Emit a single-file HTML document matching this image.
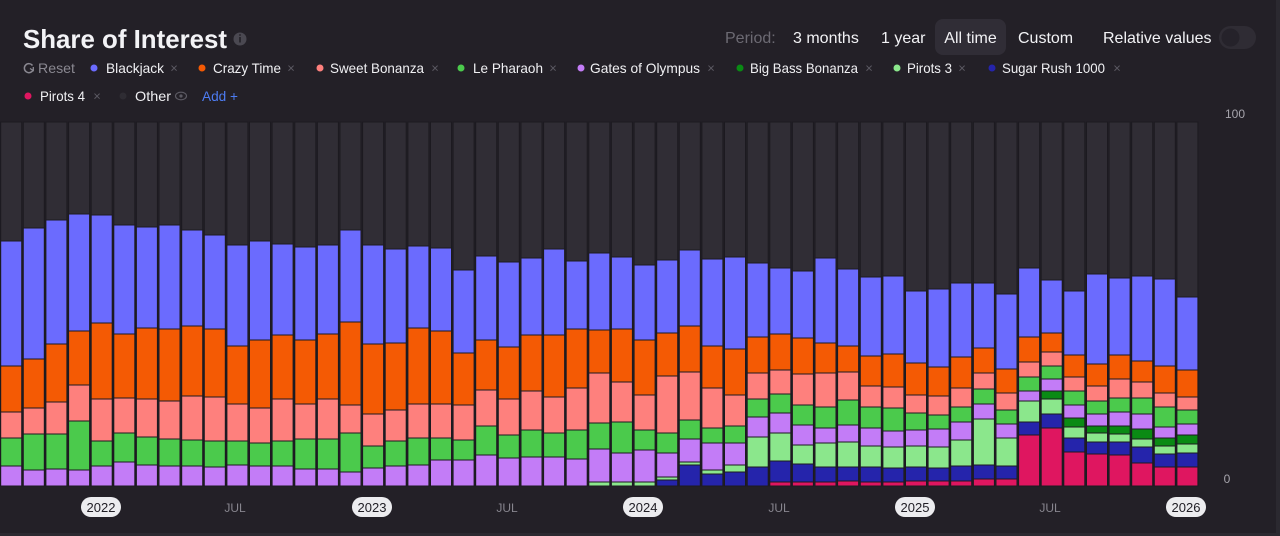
<!DOCTYPE html>
<html><head><meta charset="utf-8"><style>
html,body{margin:0;padding:0;background:#232027;}
svg{display:block;}
text{font-family:"Liberation Sans",Arial,sans-serif;}
.o{fill:#302d35}
.c rect{stroke:#1c1a20;stroke-width:1}
.bj{fill:#6b6bfe}.ct{fill:#f45a04}.sb{fill:#fe807d}.lp{fill:#4bca4c}.go{fill:#c37cf7}.bb{fill:#0a8a14}.p3{fill:#8be78c}.sr{fill:#2524ab}.p4{fill:#df1660}
</style></head><body>
<svg width="1280" height="536" viewBox="0 0 1280 536" xmlns="http://www.w3.org/2000/svg">
<rect x="0" y="0" width="1280" height="536" fill="#232027"/>
<rect x="1276" y="0" width="4" height="536" fill="#2b2930"/>
<rect x="0" y="533" width="1280" height="3" fill="#2b2930"/>

<!-- header -->
<text x="23" y="48" font-size="26" font-weight="bold" fill="#f3f3f6" textLength="204" lengthAdjust="spacingAndGlyphs">Share of Interest</text>
<circle cx="240" cy="39" r="6.5" fill="#4a4851"/>
<rect x="239.2" y="37" width="1.6" height="5.5" fill="#232027"/>
<circle cx="240" cy="35" r="0.9" fill="#232027"/>

<text x="725" y="43" font-size="16" fill="#6c6a73">Period:</text>
<text x="793" y="43" font-size="16" fill="#f2f2f5">3 months</text>
<text x="881" y="43" font-size="16" fill="#f2f2f5">1 year</text>
<rect x="935" y="19" width="71" height="36" rx="8" fill="#302d36"/>
<text x="970.5" y="43" font-size="16" fill="#f2f2f5" text-anchor="middle">All time</text>
<text x="1018" y="43" font-size="16" fill="#f2f2f5">Custom</text>
<text x="1103" y="43" font-size="16" fill="#f2f2f5">Relative values</text>
<rect x="1219" y="26" width="37" height="23" rx="11.5" fill="#2f2c34"/>
<circle cx="1230.5" cy="37.5" r="9" fill="#25222a"/>

<!-- legend row 1 -->
<path d="M32.5 65.5 A4.5 4.5 0 1 0 33 70" fill="none" stroke="#8a8891" stroke-width="1.5"/>
<path d="M30 68.5 L33.3 70.5 L33.3 67" fill="none" stroke="#8a8891" stroke-width="1.3"/>
<text x="38" y="73" font-size="14" fill="#8a8891" textLength="37" lengthAdjust="spacingAndGlyphs">Reset</text>

<circle cx="94" cy="68" r="3.5" fill="#6b6bfe"/><text x="106" y="73" font-size="14" fill="#f0f0f3" textLength="58" lengthAdjust="spacingAndGlyphs">Blackjack</text><text x="174" y="72.5" font-size="13" fill="#5c5a63" text-anchor="middle">×</text>
<circle cx="202" cy="68" r="3.5" fill="#f45a04"/><text x="213" y="73" font-size="14" fill="#f0f0f3" textLength="68" lengthAdjust="spacingAndGlyphs">Crazy Time</text><text x="291" y="72.5" font-size="13" fill="#5c5a63" text-anchor="middle">×</text>
<circle cx="320" cy="68" r="3.5" fill="#fe807d"/><text x="330" y="73" font-size="14" fill="#f0f0f3" textLength="94" lengthAdjust="spacingAndGlyphs">Sweet Bonanza</text><text x="435" y="72.5" font-size="13" fill="#5c5a63" text-anchor="middle">×</text>
<circle cx="461" cy="68" r="3.5" fill="#4bca4c"/><text x="473" y="73" font-size="14" fill="#f0f0f3" textLength="70" lengthAdjust="spacingAndGlyphs">Le Pharaoh</text><text x="553" y="72.5" font-size="13" fill="#5c5a63" text-anchor="middle">×</text>
<circle cx="581" cy="68" r="3.5" fill="#c37cf7"/><text x="590" y="73" font-size="14" fill="#f0f0f3" textLength="110" lengthAdjust="spacingAndGlyphs">Gates of Olympus</text><text x="711" y="72.5" font-size="13" fill="#5c5a63" text-anchor="middle">×</text>
<circle cx="740" cy="68" r="3.5" fill="#0a8a14"/><text x="750" y="73" font-size="14" fill="#f0f0f3" textLength="108" lengthAdjust="spacingAndGlyphs">Big Bass Bonanza</text><text x="869" y="72.5" font-size="13" fill="#5c5a63" text-anchor="middle">×</text>
<circle cx="897" cy="68" r="3.5" fill="#8be78c"/><text x="907" y="73" font-size="14" fill="#f0f0f3" textLength="45" lengthAdjust="spacingAndGlyphs">Pirots 3</text><text x="962" y="72.5" font-size="13" fill="#5c5a63" text-anchor="middle">×</text>
<circle cx="992" cy="68" r="3.5" fill="#2524ab"/><text x="1002" y="73" font-size="14" fill="#f0f0f3" textLength="103" lengthAdjust="spacingAndGlyphs">Sugar Rush 1000</text><text x="1117" y="72.5" font-size="13" fill="#5c5a63" text-anchor="middle">×</text>

<!-- legend row 2 -->
<circle cx="28" cy="96" r="3.5" fill="#df1660"/><text x="40" y="101" font-size="14" fill="#f0f0f3" textLength="45" lengthAdjust="spacingAndGlyphs">Pirots 4</text><text x="97" y="100.5" font-size="13" fill="#5c5a63" text-anchor="middle">×</text>
<circle cx="123" cy="96" r="3.5" fill="#2e2c33"/><text x="135" y="101" font-size="14" fill="#f0f0f3" textLength="36" lengthAdjust="spacingAndGlyphs">Other</text>
<ellipse cx="181" cy="96" rx="5.5" ry="3.8" fill="none" stroke="#5c5a63" stroke-width="1.2"/><circle cx="181" cy="96" r="1.6" fill="#5c5a63"/>
<text x="202" y="101" font-size="14" fill="#4d7cf2" textLength="36" lengthAdjust="spacingAndGlyphs">Add +</text>

<!-- bars -->
<g class="c">
<g transform="translate(0.7 0)"><rect class="o" y="122" width="21" height="364" stroke="none"/><rect class="bj" y="241" width="21" height="125"/><rect class="ct" y="366" width="21" height="46"/><rect class="sb" y="412" width="21" height="26"/><rect class="lp" y="438" width="21" height="28"/><rect class="go" y="466" width="21" height="20"/></g>
<g transform="translate(23.3 0)"><rect class="o" y="122" width="21" height="364" stroke="none"/><rect class="bj" y="228" width="21" height="131"/><rect class="ct" y="359" width="21" height="49"/><rect class="sb" y="408" width="21" height="26"/><rect class="lp" y="434" width="21" height="36"/><rect class="go" y="470" width="21" height="16"/></g>
<g transform="translate(45.9 0)"><rect class="o" y="122" width="21" height="364" stroke="none"/><rect class="bj" y="220" width="21" height="124"/><rect class="ct" y="344" width="21" height="58"/><rect class="sb" y="402" width="21" height="32"/><rect class="lp" y="434" width="21" height="35"/><rect class="go" y="469" width="21" height="17"/></g>
<g transform="translate(68.6 0)"><rect class="o" y="122" width="21" height="364" stroke="none"/><rect class="bj" y="214" width="21" height="117"/><rect class="ct" y="331" width="21" height="54"/><rect class="sb" y="385" width="21" height="36"/><rect class="lp" y="421" width="21" height="49"/><rect class="go" y="470" width="21" height="16"/></g>
<g transform="translate(91.2 0)"><rect class="o" y="122" width="21" height="364" stroke="none"/><rect class="bj" y="215" width="21" height="108"/><rect class="ct" y="323" width="21" height="76"/><rect class="sb" y="399" width="21" height="42"/><rect class="lp" y="441" width="21" height="25"/><rect class="go" y="466" width="21" height="20"/></g>
<g transform="translate(113.8 0)"><rect class="o" y="122" width="21" height="364" stroke="none"/><rect class="bj" y="225" width="21" height="109"/><rect class="ct" y="334" width="21" height="64"/><rect class="sb" y="398" width="21" height="35"/><rect class="lp" y="433" width="21" height="29"/><rect class="go" y="462" width="21" height="24"/></g>
<g transform="translate(136.4 0)"><rect class="o" y="122" width="21" height="364" stroke="none"/><rect class="bj" y="227" width="21" height="101"/><rect class="ct" y="328" width="21" height="71"/><rect class="sb" y="399" width="21" height="38"/><rect class="lp" y="437" width="21" height="28"/><rect class="go" y="465" width="21" height="21"/></g>
<g transform="translate(159.0 0)"><rect class="o" y="122" width="21" height="364" stroke="none"/><rect class="bj" y="225" width="21" height="104"/><rect class="ct" y="329" width="21" height="72"/><rect class="sb" y="401" width="21" height="38"/><rect class="lp" y="439" width="21" height="27"/><rect class="go" y="466" width="21" height="20"/></g>
<g transform="translate(181.7 0)"><rect class="o" y="122" width="21" height="364" stroke="none"/><rect class="bj" y="230" width="21" height="96"/><rect class="ct" y="326" width="21" height="70"/><rect class="sb" y="396" width="21" height="44"/><rect class="lp" y="440" width="21" height="26"/><rect class="go" y="466" width="21" height="20"/></g>
<g transform="translate(204.3 0)"><rect class="o" y="122" width="21" height="364" stroke="none"/><rect class="bj" y="235" width="21" height="94"/><rect class="ct" y="329" width="21" height="68"/><rect class="sb" y="397" width="21" height="44"/><rect class="lp" y="441" width="21" height="26"/><rect class="go" y="467" width="21" height="19"/></g>
<g transform="translate(226.9 0)"><rect class="o" y="122" width="21" height="364" stroke="none"/><rect class="bj" y="245" width="21" height="101"/><rect class="ct" y="346" width="21" height="58"/><rect class="sb" y="404" width="21" height="37"/><rect class="lp" y="441" width="21" height="24"/><rect class="go" y="465" width="21" height="21"/></g>
<g transform="translate(249.5 0)"><rect class="o" y="122" width="21" height="364" stroke="none"/><rect class="bj" y="241" width="21" height="99"/><rect class="ct" y="340" width="21" height="68"/><rect class="sb" y="408" width="21" height="35"/><rect class="lp" y="443" width="21" height="23"/><rect class="go" y="466" width="21" height="20"/></g>
<g transform="translate(272.1 0)"><rect class="o" y="122" width="21" height="364" stroke="none"/><rect class="bj" y="244" width="21" height="91"/><rect class="ct" y="335" width="21" height="64"/><rect class="sb" y="399" width="21" height="42"/><rect class="lp" y="441" width="21" height="25"/><rect class="go" y="466" width="21" height="20"/></g>
<g transform="translate(294.8 0)"><rect class="o" y="122" width="21" height="364" stroke="none"/><rect class="bj" y="247" width="21" height="93"/><rect class="ct" y="340" width="21" height="64"/><rect class="sb" y="404" width="21" height="35"/><rect class="lp" y="439" width="21" height="30"/><rect class="go" y="469" width="21" height="17"/></g>
<g transform="translate(317.4 0)"><rect class="o" y="122" width="21" height="364" stroke="none"/><rect class="bj" y="245" width="21" height="89"/><rect class="ct" y="334" width="21" height="65"/><rect class="sb" y="399" width="21" height="40"/><rect class="lp" y="439" width="21" height="30"/><rect class="go" y="469" width="21" height="17"/></g>
<g transform="translate(340.0 0)"><rect class="o" y="122" width="21" height="364" stroke="none"/><rect class="bj" y="230" width="21" height="92"/><rect class="ct" y="322" width="21" height="83"/><rect class="sb" y="405" width="21" height="28"/><rect class="lp" y="433" width="21" height="39"/><rect class="go" y="472" width="21" height="14"/></g>
<g transform="translate(362.6 0)"><rect class="o" y="122" width="21" height="364" stroke="none"/><rect class="bj" y="245" width="21" height="99"/><rect class="ct" y="344" width="21" height="70"/><rect class="sb" y="414" width="21" height="32"/><rect class="lp" y="446" width="21" height="22"/><rect class="go" y="468" width="21" height="18"/></g>
<g transform="translate(385.2 0)"><rect class="o" y="122" width="21" height="364" stroke="none"/><rect class="bj" y="249" width="21" height="94"/><rect class="ct" y="343" width="21" height="67"/><rect class="sb" y="410" width="21" height="31"/><rect class="lp" y="441" width="21" height="25"/><rect class="go" y="466" width="21" height="20"/></g>
<g transform="translate(407.9 0)"><rect class="o" y="122" width="21" height="364" stroke="none"/><rect class="bj" y="246" width="21" height="82"/><rect class="ct" y="328" width="21" height="76"/><rect class="sb" y="404" width="21" height="34"/><rect class="lp" y="438" width="21" height="27"/><rect class="go" y="465" width="21" height="21"/></g>
<g transform="translate(430.5 0)"><rect class="o" y="122" width="21" height="364" stroke="none"/><rect class="bj" y="248" width="21" height="83"/><rect class="ct" y="331" width="21" height="73"/><rect class="sb" y="404" width="21" height="34"/><rect class="lp" y="438" width="21" height="22"/><rect class="go" y="460" width="21" height="26"/></g>
<g transform="translate(453.1 0)"><rect class="o" y="122" width="21" height="364" stroke="none"/><rect class="bj" y="270" width="21" height="83"/><rect class="ct" y="353" width="21" height="52"/><rect class="sb" y="405" width="21" height="35"/><rect class="lp" y="440" width="21" height="20"/><rect class="go" y="460" width="21" height="26"/></g>
<g transform="translate(475.7 0)"><rect class="o" y="122" width="21" height="364" stroke="none"/><rect class="bj" y="256" width="21" height="84"/><rect class="ct" y="340" width="21" height="50"/><rect class="sb" y="390" width="21" height="36"/><rect class="lp" y="426" width="21" height="29"/><rect class="go" y="455" width="21" height="31"/></g>
<g transform="translate(498.3 0)"><rect class="o" y="122" width="21" height="364" stroke="none"/><rect class="bj" y="262" width="21" height="85"/><rect class="ct" y="347" width="21" height="52"/><rect class="sb" y="399" width="21" height="36"/><rect class="lp" y="435" width="21" height="23"/><rect class="go" y="458" width="21" height="28"/></g>
<g transform="translate(521.0 0)"><rect class="o" y="122" width="21" height="364" stroke="none"/><rect class="bj" y="258" width="21" height="77"/><rect class="ct" y="335" width="21" height="56"/><rect class="sb" y="391" width="21" height="39"/><rect class="lp" y="430" width="21" height="27"/><rect class="go" y="457" width="21" height="29"/></g>
<g transform="translate(543.6 0)"><rect class="o" y="122" width="21" height="364" stroke="none"/><rect class="bj" y="249" width="21" height="86"/><rect class="ct" y="335" width="21" height="62"/><rect class="sb" y="397" width="21" height="36"/><rect class="lp" y="433" width="21" height="24"/><rect class="go" y="457" width="21" height="29"/></g>
<g transform="translate(566.2 0)"><rect class="o" y="122" width="21" height="364" stroke="none"/><rect class="bj" y="261" width="21" height="68"/><rect class="ct" y="329" width="21" height="59"/><rect class="sb" y="388" width="21" height="42"/><rect class="lp" y="430" width="21" height="29"/><rect class="go" y="459" width="21" height="27"/></g>
<g transform="translate(588.8 0)"><rect class="o" y="122" width="21" height="364" stroke="none"/><rect class="bj" y="253" width="21" height="77"/><rect class="ct" y="330" width="21" height="43"/><rect class="sb" y="373" width="21" height="50"/><rect class="lp" y="423" width="21" height="26"/><rect class="go" y="449" width="21" height="33"/><rect class="p3" y="482" width="21" height="4"/></g>
<g transform="translate(611.4 0)"><rect class="o" y="122" width="21" height="364" stroke="none"/><rect class="bj" y="257" width="21" height="72"/><rect class="ct" y="329" width="21" height="53"/><rect class="sb" y="382" width="21" height="40"/><rect class="lp" y="422" width="21" height="31"/><rect class="go" y="453" width="21" height="29"/><rect class="p3" y="482" width="21" height="4"/></g>
<g transform="translate(634.1 0)"><rect class="o" y="122" width="21" height="364" stroke="none"/><rect class="bj" y="265" width="21" height="75"/><rect class="ct" y="340" width="21" height="55"/><rect class="sb" y="395" width="21" height="35"/><rect class="lp" y="430" width="21" height="20"/><rect class="go" y="450" width="21" height="32"/><rect class="p3" y="482" width="21" height="4"/></g>
<g transform="translate(656.7 0)"><rect class="o" y="122" width="21" height="364" stroke="none"/><rect class="bj" y="260" width="21" height="73"/><rect class="ct" y="333" width="21" height="43"/><rect class="sb" y="376" width="21" height="57"/><rect class="lp" y="433" width="21" height="20"/><rect class="go" y="453" width="21" height="24"/><rect class="p3" y="477" width="21" height="3"/><rect class="sr" y="480" width="21" height="6"/></g>
<g transform="translate(679.3 0)"><rect class="o" y="122" width="21" height="364" stroke="none"/><rect class="bj" y="250" width="21" height="76"/><rect class="ct" y="326" width="21" height="46"/><rect class="sb" y="372" width="21" height="48"/><rect class="lp" y="420" width="21" height="19"/><rect class="go" y="439" width="21" height="23"/><rect class="p3" y="462" width="21" height="3"/><rect class="sr" y="465" width="21" height="21"/></g>
<g transform="translate(701.9 0)"><rect class="o" y="122" width="21" height="364" stroke="none"/><rect class="bj" y="259" width="21" height="87"/><rect class="ct" y="346" width="21" height="42"/><rect class="sb" y="388" width="21" height="40"/><rect class="lp" y="428" width="21" height="15"/><rect class="go" y="443" width="21" height="27"/><rect class="p3" y="470" width="21" height="4"/><rect class="sr" y="474" width="21" height="12"/></g>
<g transform="translate(724.5 0)"><rect class="o" y="122" width="21" height="364" stroke="none"/><rect class="bj" y="257" width="21" height="92"/><rect class="ct" y="349" width="21" height="46"/><rect class="sb" y="395" width="21" height="31"/><rect class="lp" y="426" width="21" height="17"/><rect class="go" y="443" width="21" height="22"/><rect class="p3" y="465" width="21" height="7"/><rect class="sr" y="472" width="21" height="14"/></g>
<g transform="translate(747.2 0)"><rect class="o" y="122" width="21" height="364" stroke="none"/><rect class="bj" y="263" width="21" height="74"/><rect class="ct" y="337" width="21" height="36"/><rect class="sb" y="373" width="21" height="26"/><rect class="lp" y="399" width="21" height="18"/><rect class="go" y="417" width="21" height="20"/><rect class="p3" y="437" width="21" height="30"/><rect class="sr" y="467" width="21" height="19"/></g>
<g transform="translate(769.8 0)"><rect class="o" y="122" width="21" height="364" stroke="none"/><rect class="bj" y="268" width="21" height="66"/><rect class="ct" y="334" width="21" height="36"/><rect class="sb" y="370" width="21" height="24"/><rect class="lp" y="394" width="21" height="19"/><rect class="go" y="413" width="21" height="20"/><rect class="p3" y="433" width="21" height="28"/><rect class="sr" y="461" width="21" height="21"/><rect class="p4" y="482" width="21" height="4"/></g>
<g transform="translate(792.4 0)"><rect class="o" y="122" width="21" height="364" stroke="none"/><rect class="bj" y="271" width="21" height="67"/><rect class="ct" y="338" width="21" height="36"/><rect class="sb" y="374" width="21" height="31"/><rect class="lp" y="405" width="21" height="20"/><rect class="go" y="425" width="21" height="20"/><rect class="p3" y="445" width="21" height="19"/><rect class="sr" y="464" width="21" height="18"/><rect class="p4" y="482" width="21" height="4"/></g>
<g transform="translate(815.0 0)"><rect class="o" y="122" width="21" height="364" stroke="none"/><rect class="bj" y="258" width="21" height="85"/><rect class="ct" y="343" width="21" height="30"/><rect class="sb" y="373" width="21" height="34"/><rect class="lp" y="407" width="21" height="21"/><rect class="go" y="428" width="21" height="15"/><rect class="p3" y="443" width="21" height="24"/><rect class="sr" y="467" width="21" height="15"/><rect class="p4" y="482" width="21" height="4"/></g>
<g transform="translate(837.6 0)"><rect class="o" y="122" width="21" height="364" stroke="none"/><rect class="bj" y="269" width="21" height="77"/><rect class="ct" y="346" width="21" height="26"/><rect class="sb" y="372" width="21" height="28"/><rect class="lp" y="400" width="21" height="25"/><rect class="go" y="425" width="21" height="17"/><rect class="p3" y="442" width="21" height="25"/><rect class="sr" y="467" width="21" height="14"/><rect class="p4" y="481" width="21" height="5"/></g>
<g transform="translate(860.3 0)"><rect class="o" y="122" width="21" height="364" stroke="none"/><rect class="bj" y="277" width="21" height="79"/><rect class="ct" y="356" width="21" height="30"/><rect class="sb" y="386" width="21" height="21"/><rect class="lp" y="407" width="21" height="21"/><rect class="go" y="428" width="21" height="18"/><rect class="p3" y="446" width="21" height="21"/><rect class="sr" y="467" width="21" height="15"/><rect class="p4" y="482" width="21" height="4"/></g>
<g transform="translate(882.9 0)"><rect class="o" y="122" width="21" height="364" stroke="none"/><rect class="bj" y="276" width="21" height="78"/><rect class="ct" y="354" width="21" height="33"/><rect class="sb" y="387" width="21" height="21"/><rect class="lp" y="408" width="21" height="23"/><rect class="go" y="431" width="21" height="16"/><rect class="p3" y="447" width="21" height="21"/><rect class="sr" y="468" width="21" height="14"/><rect class="p4" y="482" width="21" height="4"/></g>
<g transform="translate(905.5 0)"><rect class="o" y="122" width="21" height="364" stroke="none"/><rect class="bj" y="291" width="21" height="72"/><rect class="ct" y="363" width="21" height="32"/><rect class="sb" y="395" width="21" height="18"/><rect class="lp" y="413" width="21" height="17"/><rect class="go" y="430" width="21" height="16"/><rect class="p3" y="446" width="21" height="21"/><rect class="sr" y="467" width="21" height="14"/><rect class="p4" y="481" width="21" height="5"/></g>
<g transform="translate(928.1 0)"><rect class="o" y="122" width="21" height="364" stroke="none"/><rect class="bj" y="289" width="21" height="78"/><rect class="ct" y="367" width="21" height="29"/><rect class="sb" y="396" width="21" height="19"/><rect class="lp" y="415" width="21" height="14"/><rect class="go" y="429" width="21" height="18"/><rect class="p3" y="447" width="21" height="21"/><rect class="sr" y="468" width="21" height="13"/><rect class="p4" y="481" width="21" height="5"/></g>
<g transform="translate(950.7 0)"><rect class="o" y="122" width="21" height="364" stroke="none"/><rect class="bj" y="283" width="21" height="74"/><rect class="ct" y="357" width="21" height="31"/><rect class="sb" y="388" width="21" height="19"/><rect class="lp" y="407" width="21" height="15"/><rect class="go" y="422" width="21" height="18"/><rect class="p3" y="440" width="21" height="26"/><rect class="sr" y="466" width="21" height="15"/><rect class="p4" y="481" width="21" height="5"/></g>
<g transform="translate(973.4 0)"><rect class="o" y="122" width="21" height="364" stroke="none"/><rect class="bj" y="283" width="21" height="65"/><rect class="ct" y="348" width="21" height="25"/><rect class="sb" y="373" width="21" height="16"/><rect class="lp" y="389" width="21" height="15"/><rect class="go" y="404" width="21" height="15"/><rect class="p3" y="419" width="21" height="46"/><rect class="sr" y="465" width="21" height="14"/><rect class="p4" y="479" width="21" height="7"/></g>
<g transform="translate(996.0 0)"><rect class="o" y="122" width="21" height="364" stroke="none"/><rect class="bj" y="294" width="21" height="75"/><rect class="ct" y="369" width="21" height="24"/><rect class="sb" y="393" width="21" height="17"/><rect class="lp" y="410" width="21" height="14"/><rect class="go" y="424" width="21" height="14"/><rect class="p3" y="438" width="21" height="28"/><rect class="sr" y="466" width="21" height="13"/><rect class="p4" y="479" width="21" height="7"/></g>
<g transform="translate(1018.6 0)"><rect class="o" y="122" width="21" height="364" stroke="none"/><rect class="bj" y="268" width="21" height="69"/><rect class="ct" y="337" width="21" height="25"/><rect class="sb" y="362" width="21" height="15"/><rect class="lp" y="377" width="21" height="14"/><rect class="go" y="391" width="21" height="10"/><rect class="p3" y="401" width="21" height="21"/><rect class="sr" y="422" width="21" height="13"/><rect class="p4" y="435" width="21" height="51"/></g>
<g transform="translate(1041.2 0)"><rect class="o" y="122" width="21" height="364" stroke="none"/><rect class="bj" y="280" width="21" height="53"/><rect class="ct" y="333" width="21" height="19"/><rect class="sb" y="352" width="21" height="14"/><rect class="lp" y="366" width="21" height="13"/><rect class="go" y="379" width="21" height="12"/><rect class="bb" y="391" width="21" height="8"/><rect class="p3" y="399" width="21" height="15"/><rect class="sr" y="414" width="21" height="14"/><rect class="p4" y="428" width="21" height="58"/></g>
<g transform="translate(1063.8 0)"><rect class="o" y="122" width="21" height="364" stroke="none"/><rect class="bj" y="291" width="21" height="64"/><rect class="ct" y="355" width="21" height="22"/><rect class="sb" y="377" width="21" height="14"/><rect class="lp" y="391" width="21" height="14"/><rect class="go" y="405" width="21" height="13"/><rect class="bb" y="418" width="21" height="9"/><rect class="p3" y="427" width="21" height="11"/><rect class="sr" y="438" width="21" height="14"/><rect class="p4" y="452" width="21" height="34"/></g>
<g transform="translate(1086.5 0)"><rect class="o" y="122" width="21" height="364" stroke="none"/><rect class="bj" y="274" width="21" height="90"/><rect class="ct" y="364" width="21" height="22"/><rect class="sb" y="386" width="21" height="15"/><rect class="lp" y="401" width="21" height="13"/><rect class="go" y="414" width="21" height="12"/><rect class="bb" y="426" width="21" height="7"/><rect class="p3" y="433" width="21" height="9"/><rect class="sr" y="442" width="21" height="12"/><rect class="p4" y="454" width="21" height="32"/></g>
<g transform="translate(1109.1 0)"><rect class="o" y="122" width="21" height="364" stroke="none"/><rect class="bj" y="278" width="21" height="77"/><rect class="ct" y="355" width="21" height="24"/><rect class="sb" y="379" width="21" height="19"/><rect class="lp" y="398" width="21" height="14"/><rect class="go" y="412" width="21" height="14"/><rect class="bb" y="426" width="21" height="8"/><rect class="p3" y="434" width="21" height="8"/><rect class="sr" y="442" width="21" height="13"/><rect class="p4" y="455" width="21" height="31"/></g>
<g transform="translate(1131.7 0)"><rect class="o" y="122" width="21" height="364" stroke="none"/><rect class="bj" y="276" width="21" height="85"/><rect class="ct" y="361" width="21" height="21"/><rect class="sb" y="382" width="21" height="16"/><rect class="lp" y="398" width="21" height="16"/><rect class="go" y="414" width="21" height="15"/><rect class="bb" y="429" width="21" height="10"/><rect class="p3" y="439" width="21" height="8"/><rect class="sr" y="447" width="21" height="16"/><rect class="p4" y="463" width="21" height="23"/></g>
<g transform="translate(1154.3 0)"><rect class="o" y="122" width="21" height="364" stroke="none"/><rect class="bj" y="279" width="21" height="87"/><rect class="ct" y="366" width="21" height="27"/><rect class="sb" y="393" width="21" height="14"/><rect class="lp" y="407" width="21" height="20"/><rect class="go" y="427" width="21" height="11"/><rect class="bb" y="438" width="21" height="8"/><rect class="p3" y="446" width="21" height="8"/><rect class="sr" y="454" width="21" height="13"/><rect class="p4" y="467" width="21" height="19"/></g>
<g transform="translate(1176.9 0)"><rect class="o" y="122" width="21" height="364" stroke="none"/><rect class="bj" y="297" width="21" height="73"/><rect class="ct" y="370" width="21" height="27"/><rect class="sb" y="397" width="21" height="13"/><rect class="lp" y="410" width="21" height="14"/><rect class="go" y="424" width="21" height="11"/><rect class="bb" y="435" width="21" height="9"/><rect class="p3" y="444" width="21" height="9"/><rect class="sr" y="453" width="21" height="14"/><rect class="p4" y="467" width="21" height="19"/></g>
</g>

<!-- y axis labels -->
<text x="1235" y="118" font-size="12" fill="#a6a4ac" text-anchor="middle">100</text>
<text x="1227" y="483" font-size="12" fill="#a6a4ac" text-anchor="middle">0</text>

<!-- x axis -->
<rect x="81" y="497" width="40" height="20" rx="10" fill="#ececef"/><text x="101" y="512" font-size="13" fill="#1f1d24" text-anchor="middle">2022</text>
<text x="235" y="512" font-size="12" fill="#87858e" text-anchor="middle">JUL</text>
<rect x="352" y="497" width="40" height="20" rx="10" fill="#ececef"/><text x="372" y="512" font-size="13" fill="#1f1d24" text-anchor="middle">2023</text>
<text x="507" y="512" font-size="12" fill="#87858e" text-anchor="middle">JUL</text>
<rect x="623" y="497" width="40" height="20" rx="10" fill="#ececef"/><text x="643" y="512" font-size="13" fill="#1f1d24" text-anchor="middle">2024</text>
<text x="779" y="512" font-size="12" fill="#87858e" text-anchor="middle">JUL</text>
<rect x="895" y="497" width="40" height="20" rx="10" fill="#ececef"/><text x="915" y="512" font-size="13" fill="#1f1d24" text-anchor="middle">2025</text>
<text x="1050" y="512" font-size="12" fill="#87858e" text-anchor="middle">JUL</text>
<rect x="1166" y="497" width="40" height="20" rx="10" fill="#ececef"/><text x="1186" y="512" font-size="13" fill="#1f1d24" text-anchor="middle">2026</text>
</svg>
</body></html>
